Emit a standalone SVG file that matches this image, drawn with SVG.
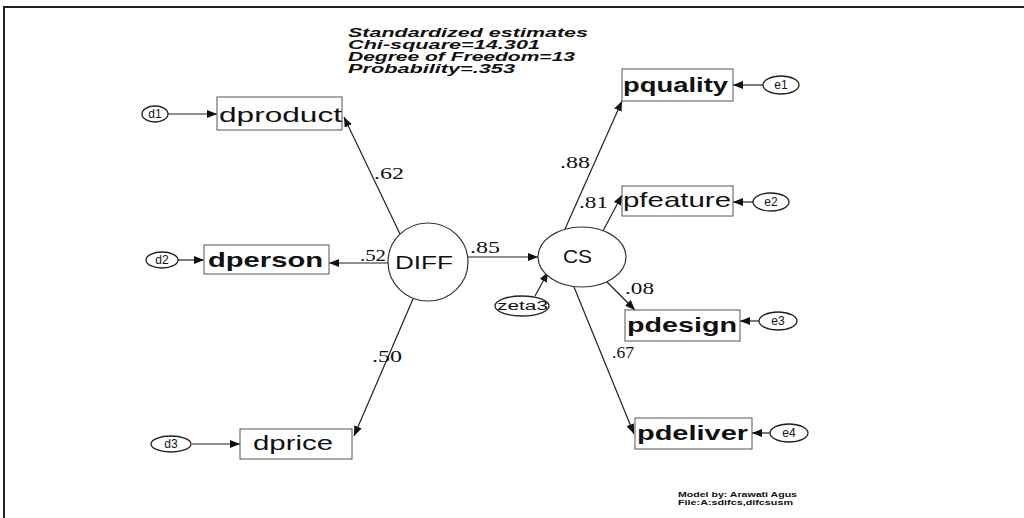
<svg xmlns="http://www.w3.org/2000/svg" width="1024" height="518" viewBox="0 0 1024 518">
<style>
.box{fill:#fff;stroke:#555;stroke-width:1}
.lat{fill:#fff;stroke:#333;stroke-width:1.2}
.err{fill:#fff;stroke:#222;stroke-width:1.3}
.nl{font-family:"Liberation Sans",Arial,sans-serif;font-size:21px;fill:#111;font-weight:normal}
.b{font-weight:bold}
.el{font-family:"Liberation Sans",Arial,sans-serif;font-size:12px;fill:#111}
.pl{font-family:"Liberation Serif","Times New Roman",serif;font-size:17px;fill:#111}
.hd{font-family:"Liberation Sans",Arial,sans-serif;font-size:12px;font-weight:bold;font-style:italic;fill:#111}
.ft{font-family:"Liberation Sans",Arial,sans-serif;font-size:8px;font-weight:bold;fill:#111}
.c{stroke:#222;stroke-width:1.2;fill:none;marker-end:url(#ah)}
</style>
<defs>
<marker id="ah" viewBox="0 0 10 8" refX="10" refY="4" markerWidth="10" markerHeight="8" markerUnits="userSpaceOnUse" orient="auto">
<path d="M0,0 L10,4 L0,8 Z" fill="#111"/>
</marker>
</defs>
<rect width="1024" height="518" fill="#fff"/>
<g id="frame" stroke="#222" stroke-width="2" fill="none">
<path d="M1024,7 L4,7 L4,518"/>
</g>
<g id="header">
<text class="hd" x="348" y="37" textLength="240" lengthAdjust="spacingAndGlyphs">Standardized estimates</text>
<text class="hd" x="348" y="49" textLength="192" lengthAdjust="spacingAndGlyphs">Chi-square=14.301</text>
<text class="hd" x="348" y="61" textLength="227" lengthAdjust="spacingAndGlyphs">Degree of Freedom=13</text>
<text class="hd" x="348" y="73" textLength="167" lengthAdjust="spacingAndGlyphs">Probability=.353</text>
</g>
<g id="connectors">
<line class="c" x1="167" y1="114" x2="217" y2="114"/>
<line class="c" x1="178" y1="260" x2="204" y2="260"/>
<line class="c" x1="192" y1="444" x2="240" y2="444"/>
<line class="c" x1="400" y1="234" x2="344" y2="117"/>
<line class="c" x1="388" y1="263" x2="329" y2="263"/>
<line class="c" x1="413" y1="299" x2="354" y2="436"/>
<line class="c" x1="468" y1="257" x2="538" y2="257"/>
<line class="c" x1="565" y1="229" x2="622" y2="101"/>
<line class="c" x1="603" y1="231" x2="622" y2="195"/>
<line class="c" x1="606" y1="281" x2="635" y2="310"/>
<line class="c" x1="574" y1="287" x2="634" y2="434"/>
<line class="c" x1="535" y1="296" x2="548" y2="272"/>
<line class="c" x1="763" y1="85" x2="733" y2="85"/>
<line class="c" x1="753" y1="202" x2="733" y2="202"/>
<line class="c" x1="759" y1="321" x2="740" y2="321"/>
<line class="c" x1="770" y1="433" x2="752" y2="433"/>
</g>
<g id="labels">
<text class="pl" x="374" y="179" textLength="30" lengthAdjust="spacingAndGlyphs">.62</text>
<text class="pl" x="360" y="261" textLength="26" lengthAdjust="spacingAndGlyphs">.52</text>
<text class="pl" x="372" y="362" textLength="30" lengthAdjust="spacingAndGlyphs">.50</text>
<text class="pl" x="470" y="253" textLength="30" lengthAdjust="spacingAndGlyphs">.85</text>
<text class="pl" x="560" y="168" textLength="30" lengthAdjust="spacingAndGlyphs">.88</text>
<text class="pl" x="579" y="208" textLength="29" lengthAdjust="spacingAndGlyphs">.81</text>
<text class="pl" x="625" y="294" textLength="29" lengthAdjust="spacingAndGlyphs">.08</text>
<text class="pl" x="612" y="358" textLength="22" lengthAdjust="spacingAndGlyphs">.67</text>
</g>
<g id="d1"><ellipse class="err" cx="155" cy="114" rx="13" ry="8"/><text class="el" x="155" y="118" text-anchor="middle">d1</text></g>
<g id="d2"><ellipse class="err" cx="162" cy="260" rx="16" ry="8"/><text class="el" x="162" y="264" text-anchor="middle">d2</text></g>
<g id="d3"><ellipse class="err" cx="171" cy="444" rx="20" ry="8"/><text class="el" x="171" y="448" text-anchor="middle">d3</text></g>
<g id="dproduct"><rect class="box" x="217" y="97" width="125" height="33"/><text class="nl" x="219" y="122" textLength="123" lengthAdjust="spacingAndGlyphs">dproduct</text></g>
<g id="dperson"><rect class="box" x="204" y="245" width="125" height="29"/><text class="nl b" x="208" y="267" textLength="115" lengthAdjust="spacingAndGlyphs">dperson</text></g>
<g id="dprice"><rect class="box" x="240" y="429" width="112" height="30"/><text class="nl" x="253" y="450" textLength="80" lengthAdjust="spacingAndGlyphs">dprice</text></g>
<g id="DIFF"><ellipse class="lat" cx="428" cy="262" rx="40" ry="39"/><text class="nl" x="395" y="269" style="font-size:18px" textLength="58" lengthAdjust="spacingAndGlyphs">DIFF</text></g>
<g id="CS"><ellipse class="lat" cx="582" cy="257" rx="44" ry="30"/><text class="nl" x="563" y="263" style="font-size:18px" textLength="29" lengthAdjust="spacingAndGlyphs">CS</text></g>
<g id="zeta3"><ellipse class="err" cx="522" cy="306" rx="27" ry="10"/><text class="el" x="497" y="310" textLength="51" lengthAdjust="spacingAndGlyphs">zeta3</text></g>
<g id="pquality"><rect class="box" x="622" y="69" width="111" height="32"/><text class="nl b" x="623" y="92" textLength="105" lengthAdjust="spacingAndGlyphs">pquality</text></g>
<g id="pfeature"><rect class="box" x="622" y="186" width="111" height="30"/><text class="nl" x="623" y="207" textLength="108" lengthAdjust="spacingAndGlyphs">pfeature</text></g>
<g id="pdesign"><rect class="box" x="625" y="310" width="115" height="31"/><text class="nl b" x="627" y="332" textLength="110" lengthAdjust="spacingAndGlyphs">pdesign</text></g>
<g id="pdeliver"><rect class="box" x="635" y="418" width="117" height="31"/><text class="nl b" x="637" y="440" textLength="111" lengthAdjust="spacingAndGlyphs">pdeliver</text></g>
<g id="e1"><ellipse class="err" cx="781" cy="85" rx="18" ry="9"/><text class="el" x="781" y="89" text-anchor="middle">e1</text></g>
<g id="e2"><ellipse class="err" cx="771" cy="202" rx="18" ry="9"/><text class="el" x="771" y="206" text-anchor="middle">e2</text></g>
<g id="e3"><ellipse class="err" cx="778" cy="321" rx="19" ry="9"/><text class="el" x="778" y="325" text-anchor="middle">e3</text></g>
<g id="e4"><ellipse class="err" cx="789" cy="433" rx="19" ry="9"/><text class="el" x="789" y="437" text-anchor="middle">e4</text></g>
<g id="footer">
<text class="ft" x="678" y="497" textLength="119" lengthAdjust="spacingAndGlyphs">Model by: Arawati Agus</text>
<text class="ft" x="678" y="505" textLength="115" lengthAdjust="spacingAndGlyphs">File:A:sdifcs,difcsusm</text>
</g>
</svg>
